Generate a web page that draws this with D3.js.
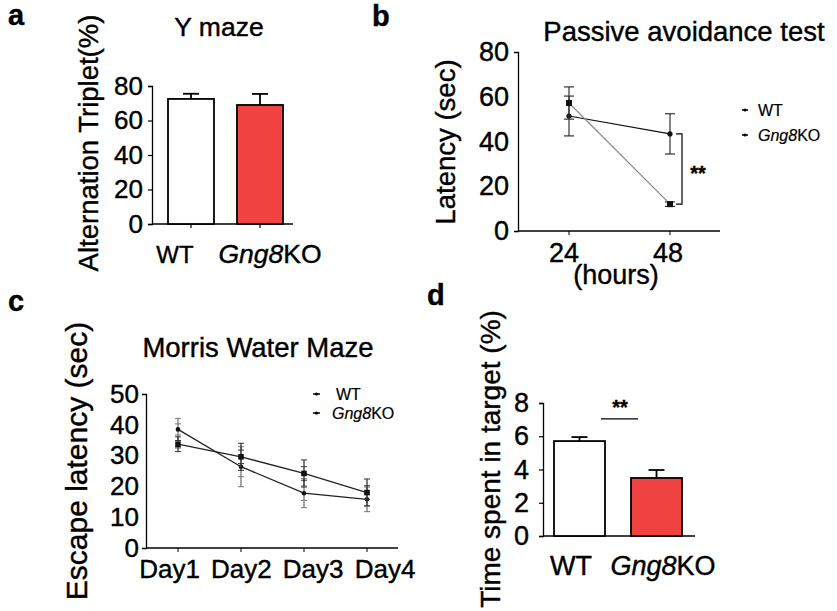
<!DOCTYPE html>
<html><head><meta charset="utf-8">
<script src="https://cdn.jsdelivr.net/npm/d3@7"></script>
<style>
html,body{margin:0;padding:0;background:#fff;}
svg{display:block;}
text{font-family:"Liberation Sans",Arial,sans-serif;fill:#000;stroke:#000;stroke-width:0.4px;}
</style>
</head><body>
<svg id="c" width="837" height="611"></svg>
<script>
// ---------- DATA ----------
const groupCats = ["WT", "Gng8KO"];
// a: Y maze
const yMazeMeans = [72.5, 69];
const yMazeErr = [3, 6.4];
const yMazeTicks = [0, 20, 40, 60, 80];
// b: Passive avoidance
const passiveHours = ["24", "48"];
const passiveWT = [51.4, 43.4];
const passiveWTErr = [8.9, 9];
const passiveKO = [57.2, 12];
const passiveKOErr = [7.2, 1];
const passiveTicks = [0, 20, 40, 60, 80];
// c: Morris water maze
const mwmDays = ["Day1", "Day2", "Day3", "Day4"];
const mwmWT = [38.5, 26.4, 17.8, 15.8];
const mwmWTErr = [3.6, 6.5, 4.7, 4.0];
const mwmKO = [33.7, 29.6, 24.2, 18.0];
const mwmKOErr = [2.4, 4.4, 4.4, 4.4];
const mwmTicks = [0, 10, 20, 30, 40, 50];
// d: Time in target
const targetMeans = [5.71, 3.49];
const targetErr = [0.24, 0.48];
const targetTicks = [0, 2, 4, 6, 8];

const RED = "#f24343";
const svg = d3.select("#c");

function groupLabel(sel, name) {
  if (name === "Gng8KO") {
    sel.append("tspan").attr("font-style", "italic").text("Gng8");
    sel.append("tspan").text("KO");
  } else sel.text(name);
}

function panelLabel(t, x, y) {
  svg.append("text").attr("x", x).attr("y", y).attr("font-size", 29).attr("font-weight", "bold").text(t);
}

function yAxis(g, y, ticks, x0, fs, pad) {
  const ax = d3.axisLeft(y).tickValues(ticks).tickSize(4).tickPadding(pad).tickFormat(d3.format("d"));
  const a = g.append("g").attr("transform", `translate(${x0},0)`).call(ax);
  a.select(".domain").attr("stroke", "#000").attr("stroke-width", 1.3);
  a.selectAll(".tick line").attr("stroke", "#000").attr("stroke-width", 1.2);
  a.selectAll(".tick text").attr("font-size", fs).attr("font-family", '"Liberation Sans",Arial,sans-serif').attr("fill", "#000");
  return a;
}
function xBaseline(g, x1, x2, yb) {
  g.append("line").attr("x1", x1).attr("x2", x2).attr("y1", yb).attr("y2", yb).attr("stroke", "#000").attr("stroke-width", 1.3);
}
function yTitle(text, x, cy, fs) {
  svg.append("text").attr("transform", `translate(${x},${cy}) rotate(-90)`).attr("text-anchor", "middle").attr("font-size", fs).text(text);
}

// ---------- PANEL A ----------
(function () {
  const g = svg.append("g");
  const y = d3.scaleLinear().domain([0, 80]).range([224, 86]);
  const x = d3.scalePoint().domain(groupCats).range([191, 260]);
  const xl = d3.scalePoint().domain(groupCats).range([175, 270]);
  const bw = 46;
  yAxis(g, y, yMazeTicks, 152, 26, 5);
  xBaseline(g, 152, 293, y(0));
  groupCats.forEach((c, i) => {
    g.append("line").attr("x1", x(c)).attr("x2", x(c)).attr("y1", y(0)).attr("y2", y(0) + 4).attr("stroke", "#000").attr("stroke-width", 1.2);
    g.append("line").attr("x1", x(c)).attr("x2", x(c)).attr("y1", y(yMazeMeans[i])).attr("y2", y(yMazeMeans[i] + yMazeErr[i])).attr("stroke", "#000").attr("stroke-width", 1.8);
    g.append("line").attr("x1", x(c) - 8).attr("x2", x(c) + 8).attr("y1", y(yMazeMeans[i] + yMazeErr[i])).attr("y2", y(yMazeMeans[i] + yMazeErr[i])).attr("stroke", "#000").attr("stroke-width", 1.8);
    g.append("rect").attr("x", x(c) - bw / 2).attr("y", y(yMazeMeans[i])).attr("width", bw).attr("height", y(0) - y(yMazeMeans[i]))
      .attr("fill", i === 0 ? "#fff" : RED).attr("stroke", "#000").attr("stroke-width", 1.8);
    const t = g.append("text").attr("x", xl(c)).attr("y", 263).attr("text-anchor", "middle").attr("font-size", i === 0 ? 24 : 26.5);
    groupLabel(t, c);
  });
  svg.append("text").attr("x", 219).attr("y", 36).attr("text-anchor", "middle").attr("font-size", 26.5).text("Y maze");
  yTitle("Alternation Triplet(%)", 98, 143, 27.5);
  panelLabel("a", 8, 25);
})();

// ---------- PANEL B ----------
(function () {
  const g = svg.append("g");
  const y = d3.scaleLinear().domain([0, 80]).range([231, 52]);
  const x = d3.scalePoint().domain(passiveHours).range([569, 670]);
  const xl = d3.scalePoint().domain(passiveHours).range([564, 668]);
  yAxis(g, y, passiveTicks, 518, 27, 5).selectAll(".tick line").remove();
  xBaseline(g, 518, 720, y(0));
  passiveHours.forEach(h => {
    g.append("line").attr("x1", x(h)).attr("x2", x(h)).attr("y1", y(0)).attr("y2", y(0) + 4).attr("stroke", "#000");
    g.append("text").attr("x", xl(h)).attr("y", 262).attr("text-anchor", "middle").attr("font-size", 27).text(h);
  });
  svg.append("text").attr("x", 616).attr("y", 284).attr("text-anchor", "middle").attr("font-size", 27).text("(hours)");
  function series(vals, errs, color, square) {
    vals.forEach((v, i) => {
      const cx = x(passiveHours[i]);
      g.append("line").attr("x1", cx).attr("x2", cx).attr("y1", y(v - errs[i])).attr("y2", y(v + errs[i])).attr("stroke", "#333").attr("stroke-width", 1.2);
      [v - errs[i], v + errs[i]].forEach(e => g.append("line").attr("x1", cx - 5).attr("x2", cx + 5).attr("y1", y(e)).attr("y2", y(e)).attr("stroke", "#333").attr("stroke-width", 1.2));
    });
    g.append("path").datum(vals).attr("fill", "none").attr("stroke", color).attr("stroke-width", 1.2)
      .attr("d", d3.line().x((d, i) => x(passiveHours[i])).y(d => y(d)));
    vals.forEach((v, i) => {
      const cx = x(passiveHours[i]);
      if (square) g.append("rect").attr("x", cx - 3).attr("y", y(v) - 3).attr("width", 6).attr("height", 6).attr("fill", "#111");
      else g.append("circle").attr("cx", cx).attr("cy", y(v)).attr("r", 2.6).attr("fill", "#111");
    });
  }
  series(passiveWT, passiveWTErr, "#111", false);
  series(passiveKO, passiveKOErr, "#8a8a8a", true);
  const bx = 682;
  g.append("path").attr("fill", "none").attr("stroke", "#000").attr("stroke-width", 1.2)
    .attr("d", `M${bx - 6},${y(passiveWT[1])}H${bx}V${y(passiveKO[1])}H${bx - 6}`);
  svg.append("text").attr("x", 698).attr("y", 180).attr("text-anchor", "middle").attr("font-size", 20).attr("font-weight", "bold").text("**");
  svg.append("text").attr("x", 684).attr("y", 41).attr("text-anchor", "middle").attr("font-size", 27.5).text("Passive avoidance test");
  groupCats.forEach((c, i) => {
    const ly = 110 + i * 25;
    g.append("line").attr("x1", 742).attr("x2", 748).attr("y1", ly).attr("y2", ly).attr("stroke", "#000").attr("stroke-width", 1.5);
    g.append("circle").attr("cx", 745).attr("cy", ly).attr("r", 1.5).attr("fill", "#000");
    const t = g.append("text").attr("x", 758).attr("y", ly + 6).attr("font-size", 16).style("stroke-width", "0.2px");
    groupLabel(t, c);
  });
  yTitle("Latency (sec)", 455, 142, 27.5);
  panelLabel("b", 372, 26);
})();

// ---------- PANEL C ----------
(function () {
  const g = svg.append("g");
  const y = d3.scaleLinear().domain([0, 50]).range([548, 394]);
  const x = d3.scalePoint().domain(mwmDays).range([178, 367]);
  const xl = d3.scalePoint().domain(mwmDays).range([169.5, 385]);
  yAxis(g, y, mwmTicks, 146, 26, 3).selectAll(".tick line").remove();
  xBaseline(g, 146, 398, y(0));
  mwmDays.forEach(d => {
    g.append("line").attr("x1", x(d)).attr("x2", x(d)).attr("y1", y(0)).attr("y2", y(0) + 4).attr("stroke", "#000");
    g.append("text").attr("x", xl(d)).attr("y", 578).attr("text-anchor", "middle").attr("font-size", 26).text(d);
  });
  function series(vals, errs, errColor, square) {
    vals.forEach((v, i) => {
      const cx = x(mwmDays[i]);
      g.append("line").attr("x1", cx).attr("x2", cx).attr("y1", y(v - errs[i])).attr("y2", y(v + errs[i])).attr("stroke", errColor).attr("stroke-width", 1.3);
      [v - errs[i], v + errs[i], v - errs[i] / 2, v + errs[i] / 2].forEach(e => g.append("line").attr("x1", cx - 3).attr("x2", cx + 3).attr("y1", y(e)).attr("y2", y(e)).attr("stroke", errColor).attr("stroke-width", 1));
    });
    g.append("path").datum(vals).attr("fill", "none").attr("stroke", "#222").attr("stroke-width", 1.3)
      .attr("d", d3.line().x((d, i) => x(mwmDays[i])).y(d => y(d)));
    vals.forEach((v, i) => {
      const cx = x(mwmDays[i]);
      if (square) g.append("rect").attr("x", cx - 2.8).attr("y", y(v) - 2.8).attr("width", 5.6).attr("height", 5.6).attr("fill", "#111");
      else g.append("circle").attr("cx", cx).attr("cy", y(v)).attr("r", 2.3).attr("fill", "#111");
    });
  }
  series(mwmWT, mwmWTErr, "#777", false);
  series(mwmKO, mwmKOErr, "#333", true);
  svg.append("text").attr("x", 258).attr("y", 357).attr("text-anchor", "middle").attr("font-size", 27.5).text("Morris Water Maze");
  groupCats.forEach((c, i) => {
    const ly = 394 + i * 19;
    g.append("line").attr("x1", 313).attr("x2", 320).attr("y1", ly).attr("y2", ly).attr("stroke", "#000").attr("stroke-width", 1.5);
    g.append("circle").attr("cx", 316.5).attr("cy", ly).attr("r", 1.6).attr("fill", "#000");
    const t = g.append("text").attr("x", i === 0 ? 336 : 332).attr("y", ly + 6).attr("font-size", 16).style("stroke-width", "0.2px");
    groupLabel(t, c);
  });
  yTitle("Escape latency (sec)", 87, 461, 30);
  panelLabel("c", 8, 311);
})();

// ---------- PANEL D ----------
(function () {
  const g = svg.append("g");
  const y = d3.scaleLinear().domain([0, 8]).range([536, 403]);
  const x = d3.scalePoint().domain(groupCats).range([579.5, 656.5]);
  const xl = d3.scalePoint().domain(groupCats).range([571, 663]);
  const bw = 51;
  yAxis(g, y, targetTicks, 543, 27, 10);
  xBaseline(g, 543, 695, y(0));
  groupCats.forEach((c, i) => {
    g.append("line").attr("x1", x(c)).attr("x2", x(c)).attr("y1", y(targetMeans[i])).attr("y2", y(targetMeans[i] + targetErr[i])).attr("stroke", "#000").attr("stroke-width", 1.8);
    g.append("line").attr("x1", x(c) - 8).attr("x2", x(c) + 8).attr("y1", y(targetMeans[i] + targetErr[i])).attr("y2", y(targetMeans[i] + targetErr[i])).attr("stroke", "#000").attr("stroke-width", 1.8);
    g.append("rect").attr("x", x(c) - bw / 2).attr("y", y(targetMeans[i])).attr("width", bw).attr("height", y(0) - y(targetMeans[i]))
      .attr("fill", i === 0 ? "#fff" : RED).attr("stroke", "#000").attr("stroke-width", 1.8);
    const t = g.append("text").attr("x", xl(c)).attr("y", 575).attr("text-anchor", "middle").attr("font-size", 27);
    groupLabel(t, c);
  });
  g.append("line").attr("x1", x(groupCats[0]) + 21.5).attr("x2", x(groupCats[1]) - 18.5).attr("y1", y(7.04)).attr("y2", y(7.04)).attr("stroke", "#000").attr("stroke-width", 1.2);
  svg.append("text").attr("x", 620).attr("y", 414).attr("text-anchor", "middle").attr("font-size", 20).attr("font-weight", "bold").text("**");
  yTitle("Time spent in target (%)", 500, 459, 28);
  panelLabel("d", 427, 305);
})();
</script>
</body></html>
